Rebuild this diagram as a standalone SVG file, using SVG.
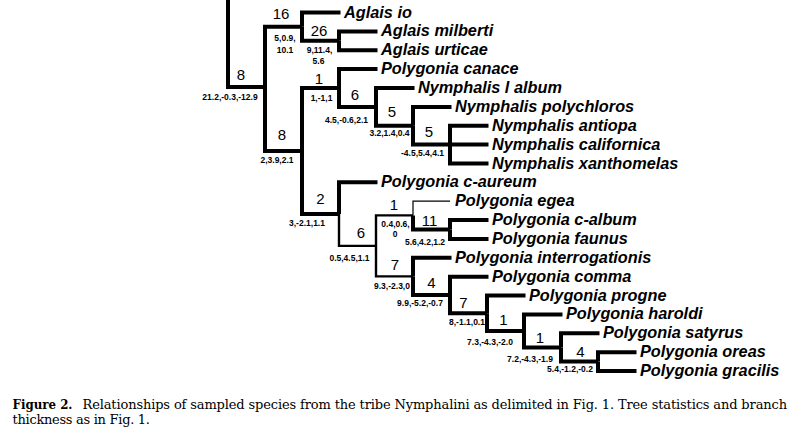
<svg xmlns="http://www.w3.org/2000/svg" width="800" height="436" viewBox="0 0 800 436">
<style>
.e{fill:none;stroke:#000;stroke-width:4;stroke-linejoin:miter}
.m{stroke-width:2.4}
.t{stroke-width:1.2}
.sp{font-family:"Liberation Sans",Arial,sans-serif;font-weight:bold;font-style:italic;font-size:16.3px;fill:#000}
.nl{font-family:"Liberation Sans",Arial,sans-serif;font-size:15px;fill:#000;text-anchor:middle}
.st{font-family:"Liberation Sans",Arial,sans-serif;font-weight:bold;font-size:8.5px;fill:#000;text-anchor:middle}
.cap{font-family:"DejaVu Serif","Liberation Serif",serif;font-size:13px;fill:#000}
</style>
<rect width="800" height="436" fill="#fff"/>
<g id="connectors">
<path class="e" d="M228,-2 V87 H265"/>
<path class="e" d="M265,87 V26.65 H302"/>
<path class="e" d="M265,87 V151.05 H302"/>
<path class="e" d="M302,26.65 V12.5 H340.5"/>
<path class="e" d="M302,26.65 V40.8 H339"/>
<path class="e" d="M339,40.8 V31.4 H377.5"/>
<path class="e" d="M339,40.8 V50.2 H377.5"/>
<path class="e" d="M302,151.05 V88 H339"/>
<path class="e" d="M302,151.05 V214.1 H339"/>
<path class="e" d="M339,88 V69.1 H377.5"/>
<path class="e" d="M339,88 V106.9 H376"/>
<path class="e" d="M376,106.9 V88 H414.5"/>
<path class="e" d="M376,106.9 V125.75 H413"/>
<path class="e" d="M413,125.75 V106.9 H451.5"/>
<path class="e" d="M413,125.75 V144.6 H450"/>
<path class="e" d="M450,144.6 V125.7 H488.5"/>
<path class="e" d="M450,144.6 H488.5"/>
<path class="e" d="M450,144.6 V163.5 H488.5"/>
<path class="e" d="M339,214.1 V182.3 H377.5"/>
<path class="e m" d="M339,214.1 V245.9 H376"/>
<path class="e m" d="M376,245.9 V215.4 H413"/>
<path class="e m" d="M376,245.9 V276.4 H413"/>
<path class="e t" d="M413,215.4 V201.2 H450"/>
<path class="e" d="M413,215.4 V229.55 H450"/>
<path class="e" d="M450,229.55 V220.1 H488.5"/>
<path class="e" d="M450,229.55 V239 H488.5"/>
<path class="e" d="M413,276.4 V257.8 H451.5"/>
<path class="e" d="M413,276.4 V295 H450"/>
<path class="e" d="M450,295 V276.7 H488.5"/>
<path class="e" d="M450,295 V313.25 H487"/>
<path class="e" d="M487,313.25 V295.6 H525.5"/>
<path class="e" d="M487,313.25 V330.9 H524"/>
<path class="e" d="M524,330.9 V314.4 H562.5"/>
<path class="e" d="M524,330.9 V347.45 H561"/>
<path class="e" d="M561,347.45 V333.3 H599.5"/>
<path class="e" d="M561,347.45 V361.6 H598"/>
<path class="e" d="M598,361.6 V352.2 H636.5"/>
<path class="e" d="M598,361.6 V371 H636.5"/>
</g>
<g id="leaves">
<text id="aglais-io" class="sp" x="344" y="17.5">Aglais io</text>
<text id="aglais-milberti" class="sp" x="381" y="36.4">Aglais milberti</text>
<text id="aglais-urticae" class="sp" x="381" y="55.2">Aglais urticae</text>
<text id="polygonia-canace" class="sp" x="381" y="74.1">Polygonia canace</text>
<text id="nymphalis-l-album" class="sp" x="418" y="93">Nymphalis l album</text>
<text id="nymphalis-polychloros" class="sp" x="455" y="111.9">Nymphalis polychloros</text>
<text id="nymphalis-antiopa" class="sp" x="492" y="130.7">Nymphalis antiopa</text>
<text id="nymphalis-californica" class="sp" x="492" y="149.6">Nymphalis californica</text>
<text id="nymphalis-xanthomelas" class="sp" x="492" y="168.5">Nymphalis xanthomelas</text>
<text id="polygonia-c-aureum" class="sp" x="381" y="187.3">Polygonia c-aureum</text>
<text id="polygonia-egea" class="sp" x="455" y="206.2">Polygonia egea</text>
<text id="polygonia-c-album" class="sp" x="492" y="225.1">Polygonia c-album</text>
<text id="polygonia-faunus" class="sp" x="492" y="244">Polygonia faunus</text>
<text id="polygonia-interrogationis" class="sp" x="455" y="262.8">Polygonia interrogationis</text>
<text id="polygonia-comma" class="sp" x="492" y="281.7">Polygonia comma</text>
<text id="polygonia-progne" class="sp" x="529" y="300.6">Polygonia progne</text>
<text id="polygonia-haroldi" class="sp" x="566" y="319.4">Polygonia haroldi</text>
<text id="polygonia-satyrus" class="sp" x="603" y="338.3">Polygonia satyrus</text>
<text id="polygonia-oreas" class="sp" x="640" y="357.2">Polygonia oreas</text>
<text id="polygonia-gracilis" class="sp" x="640" y="376">Polygonia gracilis</text>
</g>
<g id="node-labels">
<text class="nl" x="241" y="80">8</text>
<text class="nl" x="281" y="19">16</text>
<text class="nl" x="319" y="36">26</text>
<text class="nl" x="282" y="140">8</text>
<text class="nl" x="319" y="84">1</text>
<text class="nl" x="355" y="100">6</text>
<text class="nl" x="392" y="117">5</text>
<text class="nl" x="429" y="137">5</text>
<text class="nl" x="320.5" y="204">2</text>
<text class="nl" x="361" y="238">6</text>
<text class="nl" x="394" y="210">1</text>
<text class="nl" x="429.5" y="226">11</text>
<text class="nl" x="395" y="270">7</text>
<text class="nl" x="431.5" y="288">4</text>
<text class="nl" x="463.5" y="308">7</text>
<text class="nl" x="503.5" y="325">1</text>
<text class="nl" x="540" y="343">1</text>
<text class="nl" x="580.5" y="357">4</text>
</g>
<g id="stats">
<text class="st" x="230" y="100">21.2,-0.3,-12.9</text>
<text class="st" x="285" y="41">5,0.9,</text>
<text class="st" x="285" y="53">10.1</text>
<text class="st" x="319.5" y="53">9,11.4,</text>
<text class="st" x="318.5" y="64">5.6</text>
<text class="st" x="277" y="163">2,3.9,2.1</text>
<text class="st" x="321.5" y="101">1,-1,1</text>
<text class="st" x="346.5" y="123">4.5,-0.6,2.1</text>
<text class="st" x="389.5" y="136">3.2,1.4,0.4</text>
<text class="st" x="422.5" y="156">-4.5,5.4,4.1</text>
<text class="st" x="307" y="226">3,-2.1,1.1</text>
<text class="st" x="349.5" y="261">0.5,4.5,1.1</text>
<text class="st" x="395.5" y="227">0.4,0.6,</text>
<text class="st" x="395" y="237">0</text>
<text class="st" x="425" y="245">5.6,4.2,1.2</text>
<text class="st" x="392" y="289">9.3,-2.3,0</text>
<text class="st" x="420" y="306">9.9,-5.2,-0.7</text>
<text class="st" x="467" y="325">8,-1.1,0.1</text>
<text class="st" x="490" y="345">7.3,-4.3,-2.0</text>
<text class="st" x="530" y="362">7.2,-4.3,-1.9</text>
<text class="st" x="570" y="372">5.4,-1.2,-0.2</text>
</g>
<g id="caption">
<text class="cap" x="12.5" y="409" font-weight="bold" textLength="60" lengthAdjust="spacingAndGlyphs">Figure 2.</text>
<text class="cap" x="82.5" y="409" textLength="704.5" lengthAdjust="spacing">Relationships of sampled species from the tribe Nymphalini as delimited in Fig. 1. Tree statistics and branch</text>
<text class="cap" x="12.5" y="424" textLength="137.5" lengthAdjust="spacing">thickness as in Fig. 1.</text>
</g>
</svg>
